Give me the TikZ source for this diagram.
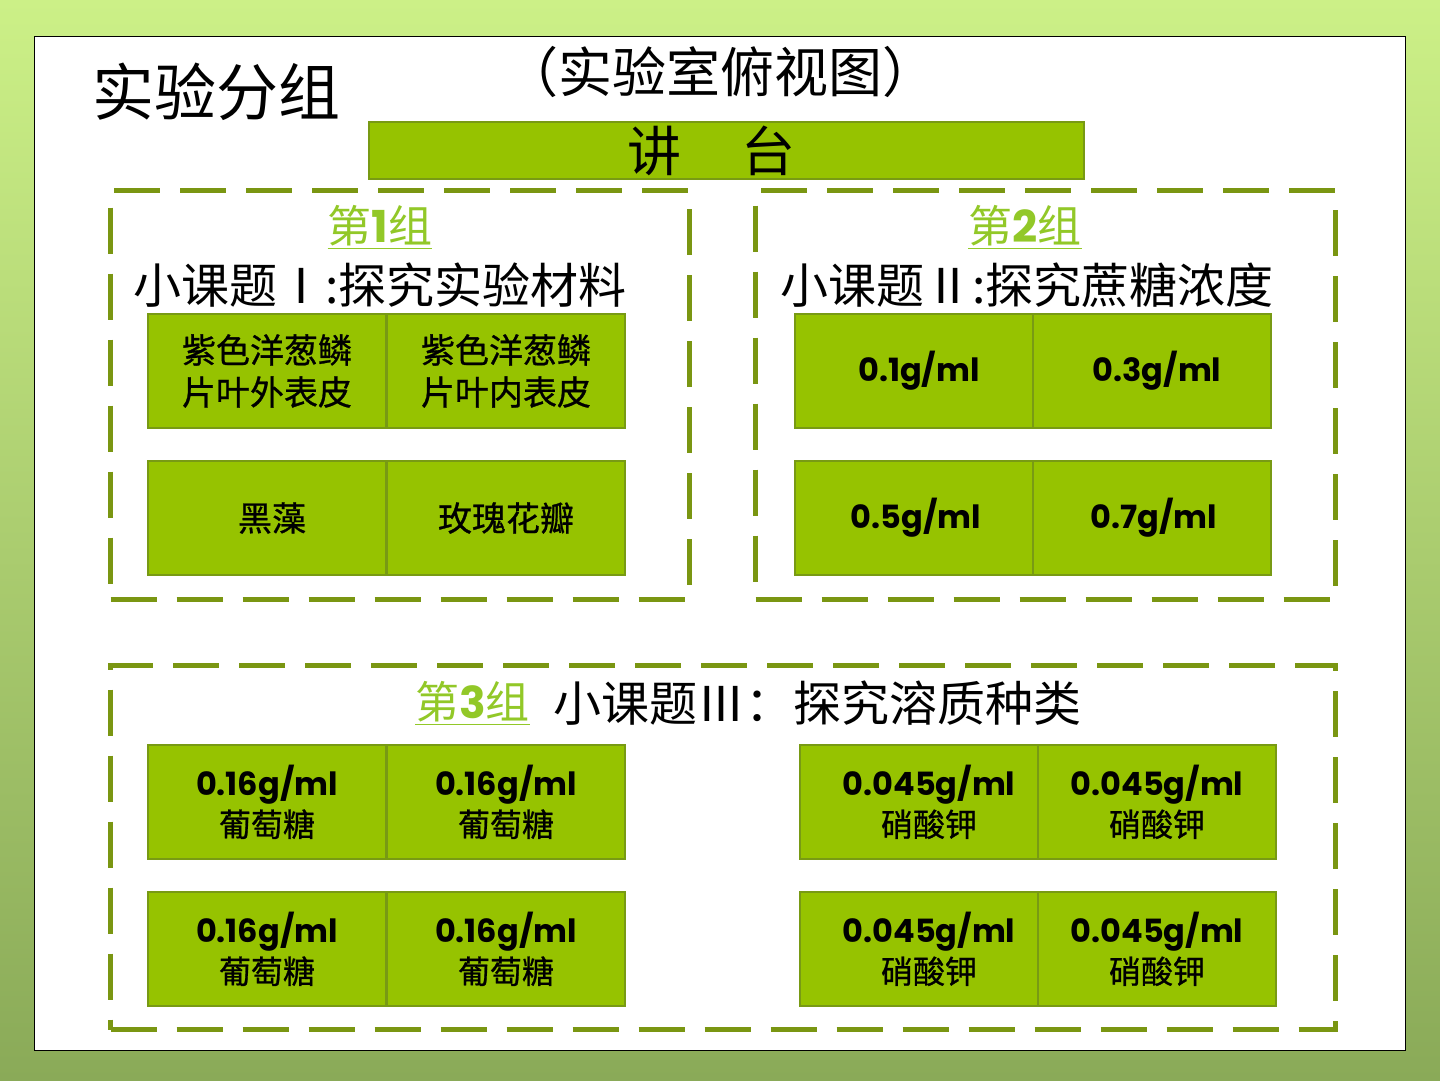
\documentclass[tikz,border=0pt]{standalone}
\usepackage{fontspec}
\setmainfont{Liberation Serif}
\newfontfamily\cjk{Noto Sans CJK SC}
\newfontfamily\cjkm{Noto Sans CJK SC}[FakeBold=0.8]
\newfontfamily\numf{Poppins}
\definecolor{bgtop}{RGB}{204,240,135}
\definecolor{bgbot}{RGB}{138,170,88}
\definecolor{cellgreen}{RGB}{150,195,0}
\definecolor{cellborder}{RGB}{120,154,20}
\definecolor{dashgreen}{RGB}{122,150,18}
\definecolor{labelgreen}{RGB}{146,200,40}
\begin{document}
\begin{tikzpicture}[x=1pt,y=-1pt,
  cell/.style={draw=cellborder,line width=2pt,fill=cellgreen,minimum width=238pt,minimum height=114pt,inner sep=0pt,anchor=north west,align=center},
  cntext/.style={font=\cjkm\fontsize{34}{42}\selectfont},
  numtext/.style={font=\fontsize{32}{41}\selectfont},
  grpbox/.style={draw=dashgreen,line width=5pt,dash pattern=on 46pt off 20pt},
  grplabel/.style={text=labelgreen,font=\cjk\fontsize{44}{50}\selectfont,inner sep=0pt},
  topic/.style={font=\cjk\fontsize{48}{54}\selectfont,inner sep=0pt}]
\useasboundingbox (0,0) rectangle (1440,1080);
\shade[top color=bgtop,bottom color=bgbot] (0,0) rectangle (1440,1080);
\node[draw=black,line width=1.2pt,fill=white,minimum width=1371pt,minimum height=1014pt,anchor=north west,inner sep=0pt] (panel) at (34,36) {};
\node[font=\cjk\fontsize{62}{70}\selectfont] (title) at (216,92) {实验分组};
\node[font=\cjk\fontsize{54}{60}\selectfont] (sub) at (720,72) {（实验室俯视图）};
\node[draw=cellborder,line width=2pt,fill=cellgreen,minimum width=715pt,minimum height=57pt,anchor=north west,inner sep=0pt,font=\cjk\fontsize{54}{60}\selectfont] (podium) at (368,121) {讲\hspace{60pt}台\kern30pt};
% group boxes
\node[grpbox,minimum width=579pt,minimum height=409pt,anchor=north west,inner sep=0pt] (g1) at (108,188) {};
\node[grpbox,minimum width=580pt,minimum height=409pt,anchor=north west,inner sep=0pt] (g2) at (753,188) {};
\node[grpbox,minimum width=1225pt,minimum height=364pt,anchor=north west,inner sep=0pt] (g3) at (108,663) {};
% group 1
\node[grplabel] (g1lab) at (380,227) {\underline{第\numf\bfseries 1\cjk\mdseries 组}};
\node[topic] (g1t) at (380,285) {小课题Ⅰ:探究实验材料};
\node[cell,cntext] (c11) at (147,313) {紫色洋葱鳞\\片叶外表皮};
\node[cell,cntext] (c12) at (386,313) {紫色洋葱鳞\\片叶内表皮};
\node[cell,cntext] (c13) at (147,460) {\hspace{10pt}黑藻};
\node[cell,cntext] (c14) at (386,460) {玫瑰花瓣};
% group 2
\node[grplabel] (g2lab) at (1025,227) {\underline{第\numf\bfseries 2\cjk\mdseries 组}};
\node[topic] (g2t) at (1027,285) {小课题Ⅱ:探究蔗糖浓度};
\node[cell,numtext] (c21) at (794,313) {\hspace{10pt}\numf\bfseries 0.1g/ml};
\node[cell,numtext] (c22) at (1032,313) {\hspace{10pt}\numf\bfseries 0.3g/ml};
\node[cell,numtext] (c23) at (794,460) {\hspace{4pt}\numf\bfseries 0.5g/ml};
\node[cell,numtext] (c24) at (1032,460) {\hspace{4pt}\numf\bfseries 0.7g/ml};
% group 3
\node[grplabel,anchor=west] (g3lab) at (415,703) {\underline{第\numf\bfseries 3\cjk\mdseries 组}};
\node[topic,anchor=west] (g3t) at (553,703) {小课题Ⅲ：探究溶质种类};
\node[cell,numtext] (c31) at (147,744) {{\numf\bfseries 0.16g/ml}\\{\cjkm 葡萄糖}};
\node[cell,numtext] (c32) at (386,744) {{\numf\bfseries 0.16g/ml}\\{\cjkm 葡萄糖}};
\node[cell,numtext] (c33) at (147,891) {{\numf\bfseries 0.16g/ml}\\{\cjkm 葡萄糖}};
\node[cell,numtext] (c34) at (386,891) {{\numf\bfseries 0.16g/ml}\\{\cjkm 葡萄糖}};
\node[cell,numtext] (c35) at (799,744) {{\kern20pt\numf\bfseries 0.045g/ml}\\{\kern20pt\cjkm 硝酸钾}};
\node[cell,numtext] (c36) at (1037,744) {{\numf\bfseries 0.045g/ml}\\{\cjkm 硝酸钾}};
\node[cell,numtext] (c37) at (799,891) {{\kern20pt\numf\bfseries 0.045g/ml}\\{\kern20pt\cjkm 硝酸钾}};
\node[cell,numtext] (c38) at (1037,891) {{\numf\bfseries 0.045g/ml}\\{\cjkm 硝酸钾}};
\end{tikzpicture}
\end{document}
